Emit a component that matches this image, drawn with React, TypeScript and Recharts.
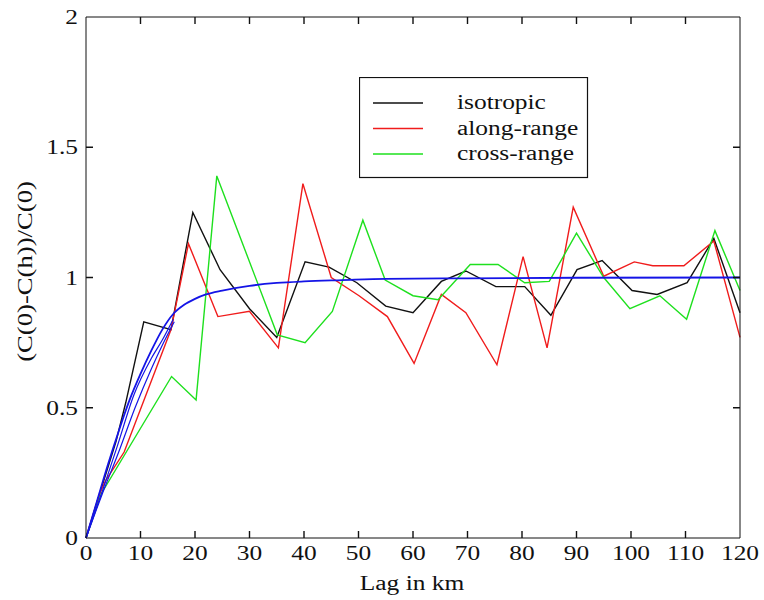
import { LineChart, Line, XAxis, YAxis, Legend } from 'recharts'

// lag (km) and normalized variogram values
const isotropic = [
  { lag: 0, v: 0 }, { lag: 2.5, v: 0.17 }, { lag: 5.5, v: 0.37 }, { lag: 7.3, v: 0.52 },
  { lag: 10.6, v: 0.83 }, { lag: 15.6, v: 0.8 }, { lag: 19.6, v: 1.25 }, { lag: 24.6, v: 1.03 },
  { lag: 30, v: 0.88 }, { lag: 35, v: 0.77 }, { lag: 40.2, v: 1.06 }, { lag: 44.6, v: 1.04 },
  { lag: 49.7, v: 0.98 }, { lag: 55, v: 0.89 }, { lag: 60, v: 0.865 }, { lag: 65.2, v: 0.985 },
  { lag: 69.7, v: 1.025 }, { lag: 75.2, v: 0.965 }, { lag: 80.5, v: 0.965 }, { lag: 85.3, v: 0.855 },
  { lag: 90.1, v: 1.03 }, { lag: 94.7, v: 1.065 }, { lag: 100.2, v: 0.95 }, { lag: 104.8, v: 0.935 },
  { lag: 110.3, v: 0.98 }, { lag: 115.2, v: 1.15 }, { lag: 120, v: 0.865 },
]

const alongRange = [
  { lag: 0, v: 0 }, { lag: 2.5, v: 0.17 }, { lag: 3.6, v: 0.22 }, { lag: 7, v: 0.33 },
  { lag: 15.6, v: 0.8 }, { lag: 18.8, v: 1.13 }, { lag: 24.2, v: 0.85 }, { lag: 30, v: 0.87 },
  { lag: 35.3, v: 0.73 }, { lag: 39.8, v: 1.36 }, { lag: 45, v: 1.0 }, { lag: 50.1, v: 0.93 },
  { lag: 55.3, v: 0.85 }, { lag: 60.2, v: 0.67 }, { lag: 65.2, v: 0.935 }, { lag: 69.7, v: 0.865 },
  { lag: 75.4, v: 0.665 }, { lag: 80.2, v: 1.08 }, { lag: 84.6, v: 0.73 }, { lag: 89.4, v: 1.27 },
  { lag: 95, v: 1.005 }, { lag: 100.6, v: 1.06 }, { lag: 104, v: 1.045 }, { lag: 109.7, v: 1.045 },
  { lag: 115.2, v: 1.14 }, { lag: 120, v: 0.77 },
]

const crossRange = [
  { lag: 0, v: 0 }, { lag: 2.8, v: 0.17 }, { lag: 15.7, v: 0.62 }, { lag: 20.2, v: 0.53 },
  { lag: 24, v: 1.39 }, { lag: 35.1, v: 0.78 }, { lag: 40.2, v: 0.75 }, { lag: 45.2, v: 0.87 },
  { lag: 50.8, v: 1.22 }, { lag: 54.9, v: 0.99 }, { lag: 60, v: 0.93 }, { lag: 64.6, v: 0.915 },
  { lag: 70.5, v: 1.05 }, { lag: 75.6, v: 1.05 }, { lag: 80.5, v: 0.98 }, { lag: 85, v: 0.985 },
  { lag: 90, v: 1.17 }, { lag: 95, v: 1.0 }, { lag: 99.8, v: 0.88 }, { lag: 105.3, v: 0.93 },
  { lag: 110.2, v: 0.84 }, { lag: 115.4, v: 1.18 }, { lag: 120, v: 0.95 },
]

// fitted model curves (blue)
const modelFit = [
  { lag: 0, v: 0 }, { lag: 2, v: 0.14 }, { lag: 4, v: 0.28 }, { lag: 6, v: 0.41 },
  { lag: 8, v: 0.53 }, { lag: 10, v: 0.63 }, { lag: 12, v: 0.72 }, { lag: 14, v: 0.8 },
  { lag: 16, v: 0.86 }, { lag: 18, v: 0.895 }, { lag: 20, v: 0.918 }, { lag: 22, v: 0.935 },
  { lag: 25, v: 0.95 }, { lag: 30, v: 0.968 }, { lag: 35, v: 0.979 }, { lag: 40, v: 0.985 },
  { lag: 47, v: 0.99 }, { lag: 55, v: 0.995 }, { lag: 70, v: 0.997 }, { lag: 90, v: 0.999 },
  { lag: 120, v: 1.0 },
]
const modelFitB = [
  { lag: 0, v: 0 }, { lag: 3, v: 0.18 }, { lag: 5.7, v: 0.35 }, { lag: 8.8, v: 0.55 },
  { lag: 12, v: 0.69 }, { lag: 14, v: 0.76 }, { lag: 16, v: 0.84 },
]
const modelFitC = [
  { lag: 0, v: 0 }, { lag: 3, v: 0.17 }, { lag: 6, v: 0.33 }, { lag: 9, v: 0.5 },
  { lag: 12, v: 0.65 }, { lag: 14, v: 0.74 }, { lag: 16.2, v: 0.83 },
]

const xTicks = [0, 10, 20, 30, 40, 50, 60, 70, 80, 90, 100, 110, 120]
const yTicks = [0, 0.5, 1, 1.5, 2]
const legendOrder = ['isotropic', 'along-range', 'cross-range']

const FONT = "'Liberation Serif', 'Times New Roman', serif"
const INK = '#111'
const STRETCH = 1.27
const TICK = 7
const txt = { fontFamily: FONT, fontSize: 20, fill: INK }

// plot frame, from the chart margins and axis sizes below
const W = 764
const H = 600
const MARGIN = { top: 16, right: 23, bottom: 0, left: 0 }
const PLOT_TOP = MARGIN.top + 1
const PLOT_RIGHT = W - MARGIN.right - 1

// ticks point into the plot on all four sides; labels only bottom/left
const BottomTick = ({ x, y, payload }: any) => {
  const inner = payload.value > 0 && payload.value < 120
  return (
    <g>
      {inner && <path d={`M${x},${y}V${y - TICK}M${x},${PLOT_TOP}V${PLOT_TOP + TICK}`} stroke={INK} strokeWidth={1.4} />}
      <text transform={`translate(${x},${y + 22}) scale(${STRETCH},1)`} textAnchor="middle" style={txt}>
        {payload.value}
      </text>
    </g>
  )
}

const LeftTick = ({ x, y, payload }: any) => {
  const inner = payload.value > 0 && payload.value < 2
  return (
    <g>
      {inner && <path d={`M${x},${y}H${x + TICK}M${PLOT_RIGHT},${y}H${PLOT_RIGHT - TICK}`} stroke={INK} strokeWidth={1.4} />}
      <text transform={`translate(${x - 8},${y + 7}) scale(${STRETCH},1)`} textAnchor="end" style={txt}>
        {payload.value}
      </text>
    </g>
  )
}

const XLabel = ({ viewBox }: any) => (
  <text transform={`translate(${viewBox.x + viewBox.width / 2 - 1},${viewBox.y + 52}) scale(${STRETCH},1)`}
    textAnchor="middle" style={txt}>
    Lag in km
  </text>
)

const YLabel = ({ viewBox }: any) => (
  <text transform={`translate(${viewBox.x + 32},${viewBox.y + viewBox.height / 2 - 6}) rotate(-90) scale(${STRETCH},1)`}
    textAnchor="middle" style={{ ...txt, fontSize: 21 }}>
    (C(0)-C(h))/C(0)
  </text>
)

const LegendBox = ({ payload }: any) => {
  const items = legendOrder
    .map((name) => (payload || []).find((p: any) => p.value === name))
    .filter(Boolean)
  return (
    <svg width={230} height={102}>
      <rect x={0.5} y={0.5} width={228} height={100} fill="#fff" stroke={INK} strokeWidth={1.2} />
      {items.map((p: any, i: number) => {
        const cy = 26 + i * 25.5
        return (
          <g key={p.value}>
            <line x1={14} x2={64} y1={cy} y2={cy} stroke={p.color} strokeWidth={1.5} />
            <text transform={`translate(98,${cy + 6}) scale(${STRETCH},1)`} style={txt}>
              {p.value}
            </text>
          </g>
        )
      })}
    </svg>
  )
}

export default function App() {
  return (
    <div style={{ position: 'absolute', left: 0, top: 0, width: W, height: H, background: '#fff' }}>
      <LineChart width={W} height={H} margin={MARGIN}>
        <XAxis type="number" dataKey="lag" domain={[0, 120]} ticks={xTicks} height={62}
          stroke={INK} tickLine={false} tickSize={0} tickMargin={0} tick={BottomTick}
          label={<XLabel />} interval={0} />
        <XAxis xAxisId="top" orientation="top" type="number" dataKey="lag" domain={[0, 120]}
          height={1} stroke={INK} tickLine={false} tick={false} />
        <YAxis type="number" domain={[0, 2]} ticks={yTicks} width={86} stroke={INK}
          tickLine={false} tickSize={0} tickMargin={0} tick={LeftTick} label={<YLabel />} interval={0} />
        <YAxis yAxisId="right" orientation="right" type="number" domain={[0, 2]}
          width={1} stroke={INK} tickLine={false} tick={false} />
        <Legend layout="vertical" align="center" verticalAlign="middle" content={LegendBox}
          wrapperStyle={{ left: 359, top: 77, width: 230, height: 102 }} />
        <Line data={isotropic} dataKey="v" name="isotropic" type="linear" stroke="#111"
          strokeWidth={1.4} dot={false} isAnimationActive={false} />
        <Line data={alongRange} dataKey="v" name="along-range" type="linear" stroke="#f01c1c"
          strokeWidth={1.4} dot={false} isAnimationActive={false} />
        <Line data={crossRange} dataKey="v" name="cross-range" type="linear" stroke="#1ee01e"
          strokeWidth={1.4} dot={false} isAnimationActive={false} />
        <Line data={modelFitC} dataKey="v" name="fit-c" type="monotone" stroke="#1414e6"
          strokeWidth={1.2} dot={false} legendType="none" isAnimationActive={false} />
        <Line data={modelFitB} dataKey="v" name="fit-b" type="monotone" stroke="#1414e6"
          strokeWidth={1.2} dot={false} legendType="none" isAnimationActive={false} />
        <Line data={modelFit} dataKey="v" name="fit" type="monotone" stroke="#1414e6"
          strokeWidth={1.8} dot={false} legendType="none" isAnimationActive={false} />
      </LineChart>
    </div>
  )
}
